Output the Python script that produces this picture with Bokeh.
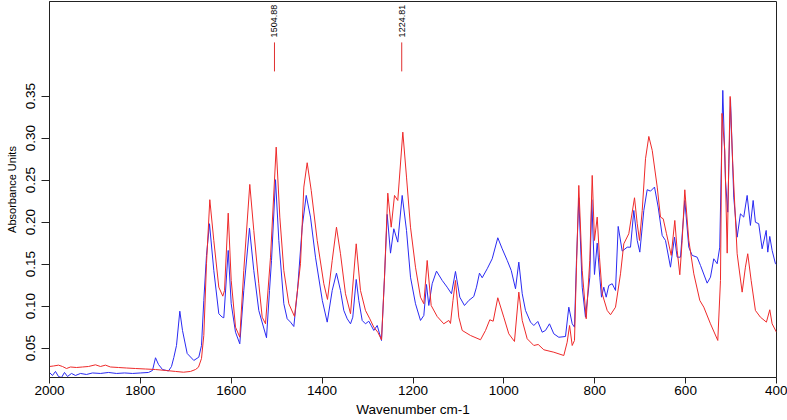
import math
from bokeh.plotting import figure
from bokeh.models import Range1d, FixedTicker, NumeralTickFormatter
from bokeh.core.properties import value
from bokeh.embed import file_html
from bokeh.resources import INLINE

# ---- data ----
blue_wn = [2000, 1993.4, 1986.8, 1980.2, 1973.6, 1967.0, 1960.4, 1951.6, 1942.8, 1931.8,
           1918.6, 1905.4, 1887.8, 1870.2, 1852.5, 1834.9, 1817.3, 1799.7, 1782.1, 1773.3,
           1766.7, 1760.1, 1751.3, 1738.1, 1731.5, 1726.4, 1720.5, 1713.2, 1707.3, 1697.0,
           1682.4, 1671.4, 1665.5, 1660.4, 1654.5, 1647.9, 1638.4, 1627.4, 1619.9, 1616.4,
           1606.7, 1600.1, 1590.6, 1581.2, 1572.4, 1559.9, 1550.4, 1539.4, 1522.4, 1515.8,
           1511.4, 1502.6, 1495.3, 1484.3, 1476.9, 1469.6, 1462.3, 1454.2, 1443.9, 1435.0,
           1425.6, 1414.6, 1399.6, 1388.8, 1377.8, 1368.4, 1359.6, 1352.3, 1344.8, 1337.5,
           1332.5, 1325.0, 1319.3, 1311.8, 1304.6, 1297.3, 1292.0, 1286.3, 1278.8, 1269.3,
           1262.7, 1256.8, 1249.5, 1242.2, 1233.5, 1223.8, 1214.3, 1205.5, 1194.5, 1183.5,
           1176.2, 1170.3, 1165.2, 1157.8, 1148.3, 1135.7, 1124.8, 1115.3, 1106.5, 1097.0,
           1086.7, 1077.2, 1066.2, 1060.3, 1053.7, 1047.7, 1036.7, 1025.7, 1013.4, 1003.7,
           992.6, 983.8, 974.4, 967.1, 959.6, 952.4, 941.4, 934.1, 925.3, 915.6,
           908.4, 899.6, 890.1, 879.1, 864.4, 857.1, 849.6, 844.6, 840.2, 835.1,
           827.6, 820.4, 810.9, 806.5, 800.6, 794.6, 788.9, 785.1, 780.1, 774.8,
           769.1, 761.6, 754.3, 748.4, 739.6, 728.6, 721.3, 714.0, 706.5, 700.8,
           692.0, 684.6, 677.3, 668.5, 660.4, 651.6, 644.3, 633.3, 624.5, 618.6,
           611.3, 601.8, 593.0, 585.6, 574.6, 567.3, 552.6, 545.3, 538.1, 530.6,
           524.9, 518.2, 512.3, 507.3, 501.3, 494.1, 486.6, 479.4, 472.1, 464.6,
           457.4, 451.4, 446.4, 439.1, 431.6, 422.7, 419.2, 414.8, 409.6, 402.3, 400.0]
blue_abs = [0.0211, 0.0175, 0.0223, 0.0163, 0.0151, 0.0211, 0.0163, 0.0199, 0.0175, 0.0199,
            0.0187, 0.0205, 0.0199, 0.0211, 0.0199, 0.0205, 0.0199, 0.0205, 0.0211, 0.0235,
            0.0386, 0.0306, 0.0246, 0.0229, 0.0282, 0.0389, 0.0532, 0.0940, 0.0711, 0.0437,
            0.0354, 0.0393, 0.0532, 0.1068, 0.1604, 0.1981, 0.1425, 0.0910, 0.0869, 0.0862,
            0.1663, 0.1029, 0.0690, 0.0552, 0.1187, 0.1929, 0.1425, 0.0949, 0.0624, 0.1187,
            0.1544, 0.2505, 0.1782, 0.1029, 0.0850, 0.0810, 0.0758, 0.1187, 0.1940, 0.2318,
            0.2060, 0.1583, 0.1068, 0.0810, 0.1187, 0.1393, 0.1187, 0.0949, 0.0850, 0.0790,
            0.0869, 0.1318, 0.1068, 0.0830, 0.0790, 0.0821, 0.0770, 0.0711, 0.0770, 0.0591,
            0.1345, 0.2092, 0.1631, 0.1921, 0.1762, 0.2318, 0.1901, 0.1345, 0.1029, 0.0830,
            0.0889, 0.1258, 0.1008, 0.1267, 0.1417, 0.1306, 0.1226, 0.1148, 0.1413, 0.1107,
            0.1008, 0.1068, 0.1115, 0.1226, 0.1393, 0.1338, 0.1445, 0.1564, 0.1814, 0.1683,
            0.1544, 0.1425, 0.1207, 0.1524, 0.1148, 0.0949, 0.0810, 0.0770, 0.0818, 0.0690,
            0.0711, 0.0790, 0.0671, 0.0630, 0.0639, 0.0988, 0.0790, 0.0750, 0.1544, 0.2290,
            0.1226, 0.0869, 0.1345, 0.2267, 0.1377, 0.1750, 0.1345, 0.1107, 0.1226, 0.1107,
            0.1246, 0.1267, 0.1187, 0.1949, 0.1655, 0.1702, 0.1702, 0.2139, 0.1782, 0.1643,
            0.2139, 0.2386, 0.2369, 0.2417, 0.2179, 0.1842, 0.1782, 0.1464, 0.1821, 0.1583,
            0.1583, 0.2258, 0.1702, 0.1604, 0.1583, 0.1485, 0.1274, 0.1345, 0.1564, 0.1505,
            0.1702, 0.3568, 0.2496, 0.2119, 0.3469, 0.2298, 0.1821, 0.2099, 0.2060, 0.2318,
            0.1961, 0.2258, 0.1999, 0.1981, 0.1683, 0.1901, 0.1643, 0.1830, 0.1663, 0.1505, 0.1500]

red_wn = [2000, 1991.2, 1980.2, 1971.4, 1962.6, 1953.8, 1940.6, 1927.4, 1914.2, 1898.8,
          1887.8, 1876.8, 1865.8, 1848.1, 1830.5, 1810.7, 1788.7, 1766.7, 1744.7, 1722.7,
          1705.1, 1689.7, 1678.7, 1672.1, 1665.5, 1660.4, 1654.5, 1647.2, 1638.4, 1627.4,
          1618.6, 1614.8, 1606.7, 1600.1, 1590.6, 1581.2, 1572.4, 1559.2, 1550.4, 1539.4,
          1531.9, 1524.6, 1513.6, 1501.1, 1493.1, 1484.3, 1473.3, 1460.8, 1447.6, 1440.3,
          1432.9, 1424.0, 1410.8, 1396.3, 1388.2, 1377.8, 1368.4, 1359.6, 1348.6, 1337.5,
          1325.0, 1315.6, 1304.6, 1295.1, 1286.3, 1277.5, 1269.3, 1262.7, 1255.5, 1248.0,
          1240.7, 1233.5, 1222.4, 1214.3, 1205.5, 1194.5, 1183.5, 1176.2, 1168.8, 1160.0,
          1146.8, 1132.3, 1121.2, 1117.5, 1112.0, 1106.5, 1099.2, 1091.7, 1073.4, 1051.4,
          1040.4, 1031.0, 1023.5, 1013.4, 1000.2, 989.2, 976.7, 967.1, 959.6, 948.7,
          934.1, 924.4, 912.1, 890.1, 868.1, 860.7, 855.4, 849.6, 844.6, 840.2,
          835.1, 827.6, 818.8, 810.9, 805.6, 800.6, 794.6, 789.6, 783.6, 772.6,
          765.3, 754.3, 743.3, 736.1, 725.1, 712.5, 706.5, 701.5, 695.5, 688.3,
          681.0, 673.5, 662.5, 655.3, 649.3, 642.1, 631.7, 623.8, 618.6, 612.8,
          607.6, 601.8, 593.0, 582.0, 568.8, 560.0, 545.3, 529.2, 523.3, 520.0,
          513.8, 508.5, 505.0, 502.0, 496.3, 486.6, 475.6, 468.4, 463.3, 455.8,
          446.4, 435.4, 422.2, 414.8, 409.6, 400.0]
red_abs = [0.0282, 0.0288, 0.0298, 0.0282, 0.0258, 0.0276, 0.0270, 0.0276, 0.0282, 0.0302,
           0.0282, 0.0298, 0.0276, 0.0270, 0.0264, 0.0258, 0.0252, 0.0246, 0.0235, 0.0223,
           0.0214, 0.0223, 0.0246, 0.0274, 0.0377, 0.0651, 0.1505, 0.2267, 0.1782, 0.1226,
           0.1119, 0.1187, 0.2107, 0.1306, 0.0750, 0.0631, 0.1425, 0.2449, 0.1901, 0.1267,
           0.0869, 0.0790, 0.1583, 0.2893, 0.2060, 0.1425, 0.1029, 0.0877, 0.1505, 0.2417,
           0.2707, 0.2377, 0.1782, 0.1267, 0.1080, 0.1544, 0.1940, 0.1624, 0.1148, 0.0910,
           0.1742, 0.1187, 0.0949, 0.0850, 0.0750, 0.0690, 0.0600, 0.1345, 0.2345, 0.1940,
           0.2318, 0.2258, 0.3071, 0.2536, 0.1940, 0.1464, 0.1107, 0.1029, 0.1544, 0.1008,
           0.0877, 0.0790, 0.0830, 0.0794, 0.1068, 0.1306, 0.0869, 0.0711, 0.0651, 0.0600,
           0.0711, 0.0838, 0.0821, 0.1100, 0.0869, 0.0671, 0.0580, 0.1167, 0.0830, 0.0612,
           0.0532, 0.0544, 0.0481, 0.0452, 0.0413, 0.0571, 0.0770, 0.0532, 0.0592, 0.1464,
           0.2437, 0.1425, 0.0850, 0.1544, 0.2556, 0.1782, 0.2060, 0.1583, 0.1148, 0.0949,
           0.0898, 0.0988, 0.1385, 0.1742, 0.1862, 0.2290, 0.1981, 0.1782, 0.2139, 0.2754,
           0.3020, 0.2854, 0.2417, 0.2060, 0.2040, 0.1862, 0.1604, 0.2020, 0.1663, 0.1374,
           0.1782, 0.2385, 0.1782, 0.1385, 0.1068, 0.0988, 0.0790, 0.0592, 0.1306, 0.3294,
           0.2854, 0.1631, 0.2695, 0.3496, 0.2695, 0.1624, 0.1167, 0.1464, 0.1624, 0.1306,
           0.0949, 0.0869, 0.0810, 0.0957, 0.0790, 0.0690]

peak_wn = [1504.88, 1224.81]
peak_labels = ["1504.88", "1224.81"]
x_ticks = [2000, 1800, 1600, 1400, 1200, 1000, 800, 600, 400]
y_ticks = [0.05, 0.10, 0.15, 0.20, 0.25, 0.30, 0.35]

FONT = "Liberation Sans"

p = figure(width=787, height=420, output_backend="svg", toolbar_location=None,
           x_range=Range1d(2000, 400), y_range=Range1d(0.0151, 0.4626),
           min_border_left=49, min_border_right=11, min_border_top=1, min_border_bottom=43,
           background_fill_color="white", border_fill_color="white")

p.xgrid.visible = False
p.ygrid.visible = False
p.outline_line_color = "#222222"
p.outline_line_width = 1
p.outline_line_alpha = 1

p.line(blue_wn, blue_abs, line_color="#2a2af2", line_width=1)
p.line(red_wn, red_abs, line_color="#ee2a2a", line_width=1)

# peak markers
p.segment(x0=peak_wn, y0=[0.3794] * len(peak_wn), x1=peak_wn, y1=[0.4139] * len(peak_wn),
          line_color="#e03030", line_width=1)
p.text(x=peak_wn, y=[0.4199] * len(peak_wn), text=peak_labels, angle=math.pi / 2,
       text_align="left", text_baseline="middle", text_font=value(FONT),
       text_font_size="9px", text_color="black")

for ax in (p.xaxis[0], p.yaxis[0]):
    ax.axis_line_color = "#222222"
    ax.major_tick_line_color = "#222222"
    ax.minor_tick_line_color = None
    ax.major_tick_in = 0
    ax.major_label_text_font = FONT
    ax.major_label_text_color = "black"
    ax.axis_label_text_font = FONT
    ax.axis_label_text_font_style = "normal"
    ax.axis_label_text_color = "black"

p.xaxis.ticker = FixedTicker(ticks=x_ticks)
p.xaxis.major_tick_out = 6
p.xaxis.major_label_text_font_size = "13.5px"
p.xaxis.major_label_standoff = 2
p.xaxis.axis_label = "Wavenumber cm-1"
p.xaxis.axis_label_text_font_size = "13.5px"
p.xaxis.axis_label_standoff = 4

p.yaxis.ticker = FixedTicker(ticks=y_ticks)
p.yaxis.formatter = NumeralTickFormatter(format="0.00")
p.yaxis.major_tick_out = 8
p.yaxis.major_label_orientation = "vertical"
p.yaxis.major_label_text_font_size = "13.5px"
p.yaxis.major_label_standoff = 6
p.yaxis.axis_label = "Absorbance Units"
p.yaxis.axis_label_text_font_size = "11px"
p.yaxis.axis_label_standoff = 6

open("out.html", "w").write(file_html(p, INLINE))
